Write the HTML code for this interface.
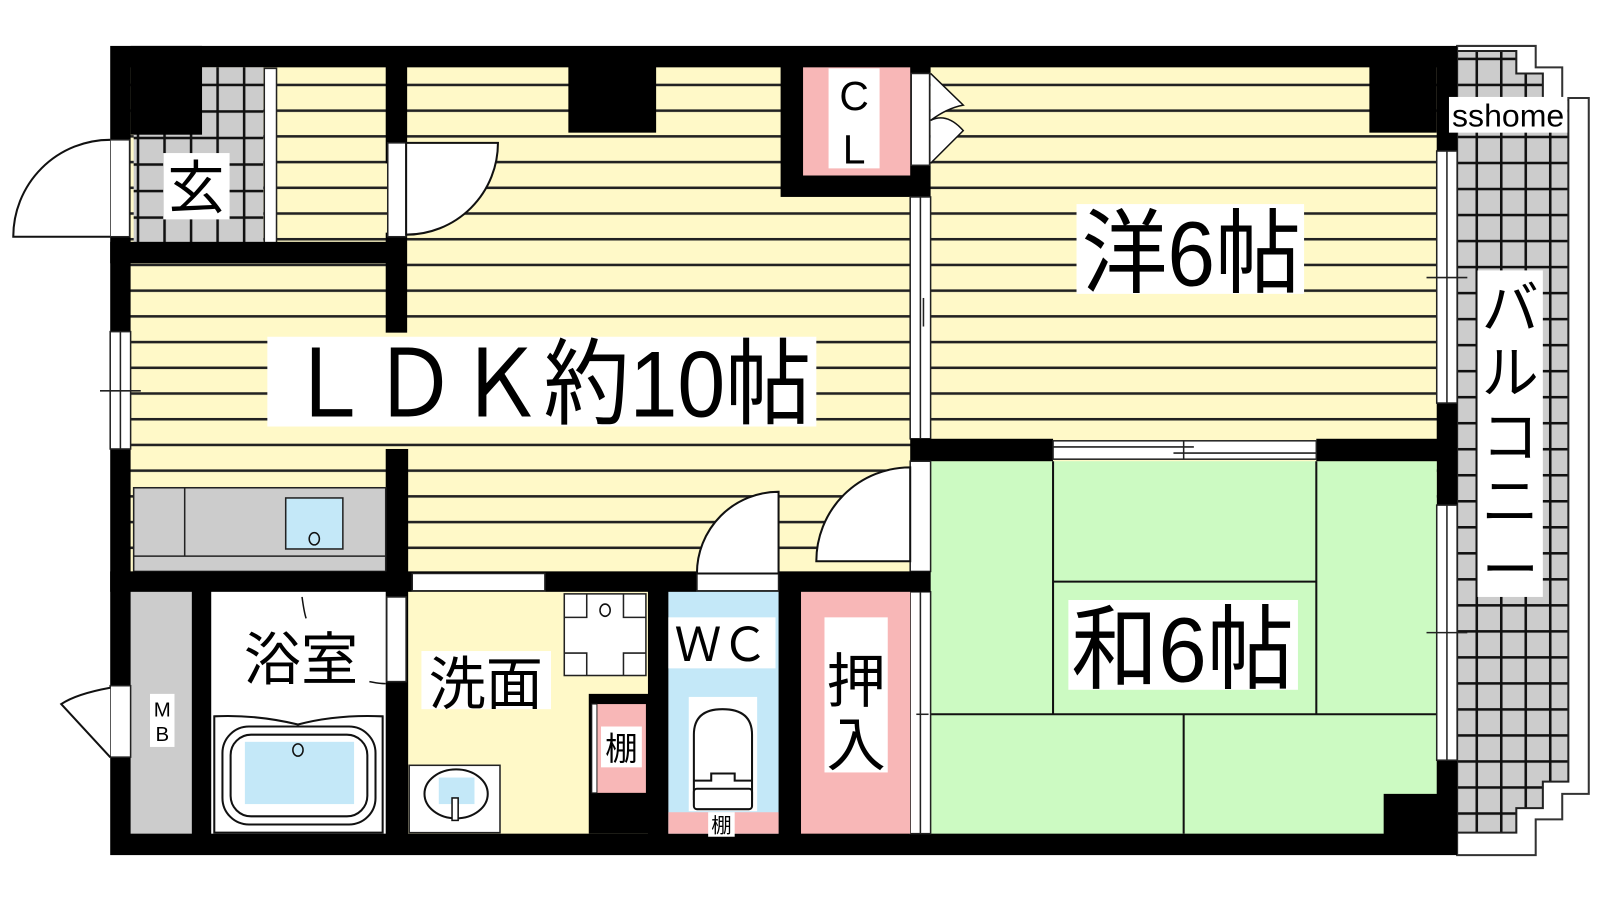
<!DOCTYPE html>
<html><head><meta charset="utf-8"><style>
html,body{margin:0;padding:0;background:#fff;width:1600px;height:900px;overflow:hidden}
svg{display:block}
text{font-family:"Liberation Sans","Noto Sans CJK JP",sans-serif;fill:#000}
</style></head><body>
<svg width="1600" height="900" viewBox="0 0 1600 900" xmlns="http://www.w3.org/2000/svg">
<defs>
<pattern id="st" patternUnits="userSpaceOnUse" x="0" y="82" width="40" height="25.2">
<rect width="40" height="25.2" fill="#FFF9C8"/><rect y="0" width="40" height="2.5" fill="#222"/>
</pattern>
<pattern id="tl" patternUnits="userSpaceOnUse" x="134" y="82" width="26" height="26">
<rect width="26" height="26" fill="#ccc"/><rect width="26" height="2.5" fill="#111"/><rect width="2.5" height="26" fill="#111"/>
</pattern>
<pattern id="tl2" patternUnits="userSpaceOnUse" x="1446" y="82" width="24" height="25.5">
<rect width="24" height="26" fill="#ccc"/><rect width="24" height="2.5" fill="#111"/><rect width="2.5" height="26" fill="#111"/>
</pattern>
</defs>
<g transform="scale(1.0204)">
<!-- balcony -->
<polygon points="1428,45 1505,45 1505,66 1531,66 1531,96 1557,96 1557,778 1531,778 1531,803 1505,803 1505,838 1428,838" fill="#fff" stroke="#333" stroke-width="2"/>
<polygon points="1428,50 1486,50 1486,72 1512,72 1512,98 1537,98 1537,766 1512,766 1512,792 1486,792 1486,816 1428,816" fill="url(#tl2)" stroke="#222" stroke-width="2"/>
<rect x="1448" y="265" width="64" height="320" fill="#fff"/>
<text x="1480" y="322" font-size="56" text-anchor="middle">バ</text>
<text x="1480" y="385" font-size="56" text-anchor="middle">ル</text>
<text x="1480" y="448" font-size="56" text-anchor="middle">コ</text>
<text x="1480" y="511" font-size="56" text-anchor="middle">ニ</text>
<text x="1480" y="578" font-size="56" text-anchor="middle">ー</text>

<!-- outer black -->
<rect x="108" y="45" width="1320" height="793" fill="#000"/>
<rect x="1420" y="95" width="116" height="35" fill="#fff"/>
<text x="1478" y="124" font-size="31" text-anchor="middle" textLength="110" lengthAdjust="spacingAndGlyphs">sshome</text>
<!-- striped area -->
<rect x="128" y="66" width="1280" height="494" fill="url(#st)"/>
<!-- genkan -->
<rect x="131" y="66" width="127" height="174" fill="url(#tl)"/>
<rect x="128" y="45" width="70" height="87" fill="#000"/>
<rect x="259" y="67" width="12" height="173" fill="#fff" stroke="#222" stroke-width="1.5"/>
<rect x="160" y="150" width="65" height="65" fill="#fff"/>
<text x="192" y="204" font-size="56" text-anchor="middle">玄</text>
<!-- top blocks -->
<rect x="557" y="60" width="86" height="70" fill="#000"/>
<rect x="1342" y="60" width="66" height="70" fill="#000"/>
<!-- genkan/LDK wall -->
<rect x="108" y="237" width="290" height="21" fill="#000"/>
<rect x="378" y="60" width="21" height="100" fill="#000"/>
<rect x="378" y="228" width="21" height="98" fill="#000"/>
<!-- LDK door -->
<rect x="380" y="140" width="18" height="92" fill="#fff" stroke="#222" stroke-width="1.5"/>
<path d="M398,140 L488,140 A90,90 0 0 1 398,230 Z" fill="#fff" stroke="#111" stroke-width="2"/>
<!-- entrance door -->
<rect x="108" y="137" width="19" height="95" fill="#fff" stroke="#222" stroke-width="1.5"/>
<path d="M108,137 A95,95 0 0 0 13,232 L108,232" fill="#fff" stroke="#111" stroke-width="2"/>
<!-- left window -->
<rect x="108" y="325" width="20" height="115" fill="#fff" stroke="#222" stroke-width="1.5"/>
<line x1="118" y1="325" x2="118" y2="440" stroke="#222" stroke-width="1.5"/>
<line x1="98" y1="383" x2="138" y2="383" stroke="#222" stroke-width="1.5"/>
<!-- CL -->
<rect x="765" y="60" width="147" height="133" fill="#000"/>
<rect x="787" y="66" width="105" height="106" fill="#F8B7B7"/>
<rect x="812" y="67" width="50" height="98" fill="#fff"/>
<text x="837" y="108" font-size="40" text-anchor="middle">C</text>
<text x="837" y="160" font-size="40" text-anchor="middle">L</text>
<rect x="893" y="72" width="18" height="90" fill="#fff" stroke="#222" stroke-width="1.5"/>
<path d="M912,72 L944,103 Q928,106 912,118 Q928,110 944,128 L912,160" fill="#fff" stroke="#111" stroke-width="1.5"/>
<!-- partition LDK/洋 -->
<rect x="892" y="193" width="20" height="237" fill="#fff" stroke="#222" stroke-width="1.5"/>
<line x1="902" y1="193" x2="902" y2="430" stroke="#222" stroke-width="1.5"/>
<line x1="905" y1="292" x2="905" y2="320" stroke="#222" stroke-width="1.5"/>
<!-- 和 room -->
<rect x="912" y="452" width="496" height="365" fill="#CCFAC2"/>
<g stroke="#111" stroke-width="2" fill="none">
<line x1="1032" y1="452" x2="1032" y2="700"/><line x1="1290" y1="452" x2="1290" y2="700"/>
<line x1="1032" y1="570" x2="1290" y2="570"/><line x1="912" y1="700" x2="1408" y2="700"/>
<line x1="1160" y1="700" x2="1160" y2="817"/>
</g>
<rect x="1356" y="778" width="60" height="45" fill="#000"/>
<!-- 洋/和 wall -->
<rect x="892" y="430" width="140" height="22" fill="#000"/>
<rect x="1290" y="430" width="125" height="22" fill="#000"/>
<rect x="1032" y="432" width="258" height="18" fill="#fff" stroke="#222" stroke-width="1.5"/>
<line x1="1032" y1="438" x2="1170" y2="438" stroke="#222" stroke-width="1.5"/>
<line x1="1150" y1="444" x2="1290" y2="444" stroke="#222" stroke-width="1.5"/>
<line x1="1160" y1="432" x2="1160" y2="450" stroke="#222" stroke-width="1.5"/>
<!-- right windows -->
<rect x="1408" y="148" width="20" height="247" fill="#fff" stroke="#222" stroke-width="1.5"/>
<line x1="1418" y1="148" x2="1418" y2="395" stroke="#222" stroke-width="1.5"/>
<line x1="1398" y1="272" x2="1438" y2="272" stroke="#222" stroke-width="1.5"/>
<rect x="1408" y="495" width="20" height="250" fill="#fff" stroke="#222" stroke-width="1.5"/>
<line x1="1418" y1="495" x2="1418" y2="745" stroke="#222" stroke-width="1.5"/>
<line x1="1398" y1="620" x2="1438" y2="620" stroke="#222" stroke-width="1.5"/>
<!-- door LDK/和 -->
<rect x="892" y="452" width="20" height="108" fill="#fff" stroke="#222" stroke-width="1.5"/>
<path d="M892,458 A92,92 0 0 0 800,550 L892,550 Z" fill="#fff" stroke="#111" stroke-width="2"/>
<!-- 押入/和 sliding -->
<rect x="892" y="580" width="20" height="237" fill="#fff" stroke="#222" stroke-width="1.5"/>
<line x1="902" y1="580" x2="902" y2="817" stroke="#222" stroke-width="1.5"/>
<line x1="898" y1="700" x2="910" y2="700" stroke="#222" stroke-width="1.5"/>
<!-- kitchen -->
<rect x="378" y="440" width="22" height="130" fill="#000"/>
<rect x="131" y="478" width="247" height="82" fill="#ccc" stroke="#222" stroke-width="1.5"/>
<line x1="181" y1="478" x2="181" y2="545" stroke="#222" stroke-width="1.5"/>
<line x1="131" y1="545" x2="378" y2="545" stroke="#222" stroke-width="1.5"/>
<rect x="280" y="488" width="56" height="50" fill="#C4E8F8" stroke="#222" stroke-width="1.5"/>
<ellipse cx="308" cy="528" rx="5" ry="6" fill="none" stroke="#111" stroke-width="1.5"/>
<!-- horizontal wall LDK/bottom -->
<rect x="108" y="560" width="804" height="20" fill="#000"/>
<rect x="404" y="562" width="130" height="17" fill="#fff" stroke="#222" stroke-width="1.5"/>
<rect x="683" y="562" width="80" height="17" fill="#fff" stroke="#222" stroke-width="1.5"/>
<path d="M763,482 A80,80 0 0 0 683,562 L763,562 Z" fill="#fff" stroke="#111" stroke-width="2"/>
<!-- bottom rooms -->
<rect x="128" y="580" width="60" height="237" fill="#ccc"/>
<rect x="147" y="680" width="24" height="52" fill="#fff"/>
<text x="159" y="702" font-size="20" text-anchor="middle">M</text>
<text x="159" y="726" font-size="20" text-anchor="middle">B</text>
<rect x="108" y="672" width="20" height="70" fill="#fff" stroke="#222" stroke-width="1.5"/>
<path d="M108,674 Q75,680 60,690 L108,742" fill="#fff" stroke="#111" stroke-width="2"/>
<rect x="207" y="580" width="171" height="237" fill="#fff"/>
<path d="M296,585 Q298,600 300,606" fill="none" stroke="#111" stroke-width="1.5"/>
<path d="M362,668 Q372,670 378,670" fill="none" stroke="#111" stroke-width="1.5"/>
<rect x="379" y="585" width="19" height="83" fill="#fff" stroke="#222" stroke-width="1.5"/>
<text x="295" y="666" font-size="56" text-anchor="middle">浴室</text>
<path d="M210,816 L210,702 Q250,700 292,710 Q330,700 375,702 L375,816 Z" fill="#fff" stroke="#111" stroke-width="2"/>
<rect x="218" y="712" width="150" height="96" rx="26" fill="none" stroke="#111" stroke-width="2"/>
<rect x="226" y="720" width="134" height="80" rx="20" fill="none" stroke="#111" stroke-width="2"/>
<rect x="240" y="727" width="107" height="61" fill="#C4E8F8"/>
<ellipse cx="292" cy="735" rx="5" ry="6" fill="none" stroke="#111" stroke-width="1.5"/>
<!-- 洗面 -->
<rect x="400" y="580" width="235" height="237" fill="#FFF9C8"/>
<rect x="553" y="582" width="80" height="80" fill="#fff" stroke="#222" stroke-width="1.5"/>
<path d="M553,605 H575 V582 M611,582 V605 H633 M633,640 H611 V662 M575,662 V640 H553" fill="none" stroke="#222" stroke-width="1.5"/>
<ellipse cx="593" cy="598" rx="5" ry="6" fill="none" stroke="#111" stroke-width="1.5"/>
<rect x="577" y="680" width="78" height="137" fill="#000"/>
<rect x="585" y="690" width="48" height="87" fill="#F8B7B7"/>
<rect x="580" y="690" width="5" height="87" fill="#fff" stroke="#222" stroke-width="1"/>
<rect x="589" y="712" width="40" height="40" fill="#fff"/>
<text x="609" y="745" font-size="32" text-anchor="middle">棚</text>
<rect x="401" y="750" width="89" height="66" fill="#fff" stroke="#222" stroke-width="1.5"/>
<ellipse cx="447" cy="778" rx="31" ry="24" fill="#fff" stroke="#111" stroke-width="2"/>
<rect x="430" y="762" width="35" height="26" fill="#C4E8F8"/>
<rect x="443" y="782" width="6" height="22" fill="#fff" stroke="#111" stroke-width="1.5"/>
<rect x="413" y="638" width="127" height="57" fill="#fff"/>
<text x="476" y="690" font-size="56" text-anchor="middle">洗面</text>
<!-- WC -->
<rect x="655" y="580" width="108" height="237" fill="#C4E8F8"/>
<rect x="655" y="796" width="108" height="21" fill="#F8B7B7"/>
<rect x="694" y="796" width="26" height="24" fill="#fff"/>
<text x="707" y="816" font-size="20" text-anchor="middle">棚</text>
<rect x="655" y="605" width="105" height="50" fill="#fff"/>
<text x="707" y="648" font-size="46" text-anchor="middle">ＷＣ</text>
<rect x="675" y="683" width="67" height="112" fill="#fff"/>
<path d="M680,783 V720 Q680,695 708,695 Q737,695 737,720 V783 Z" fill="#fff" stroke="#111" stroke-width="2"/>
<path d="M680,765 H697 V758 H720 V765 H737" fill="none" stroke="#111" stroke-width="2"/>
<rect x="680" y="773" width="57" height="20" rx="3" fill="#fff" stroke="#111" stroke-width="2"/>
<!-- 押入 -->
<rect x="785" y="580" width="107" height="237" fill="#F8B7B7"/>
<rect x="808" y="605" width="62" height="152" fill="#fff"/>
<text x="839" y="688" font-size="58" text-anchor="middle">押</text>
<text x="839" y="750" font-size="58" text-anchor="middle">入</text>
<!-- big labels -->
<rect x="262" y="330" width="538" height="88" fill="#fff"/>
<text x="280" y="408" font-size="92" textLength="515" lengthAdjust="spacingAndGlyphs">ＬＤＫ約10帖</text>
<rect x="1055" y="200" width="223" height="88" fill="#fff"/>
<text x="1060" y="280" font-size="90" textLength="215" lengthAdjust="spacingAndGlyphs">洋6帖</text>
<rect x="1047" y="588" width="225" height="88" fill="#fff"/>
<text x="1050" y="668" font-size="90" textLength="218" lengthAdjust="spacingAndGlyphs">和6帖</text>
</g>
</svg>
</body></html>
